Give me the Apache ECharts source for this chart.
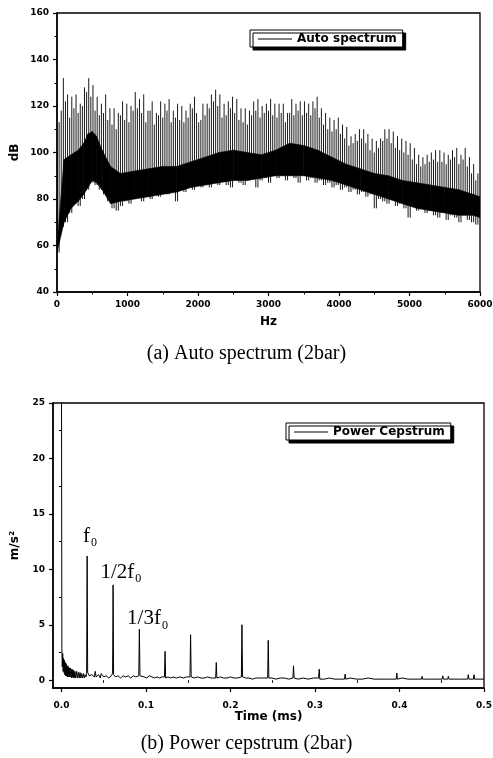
<!DOCTYPE html>
<html>
<head>
<meta charset="utf-8">
<script src="https://cdn.jsdelivr.net/npm/echarts@6/dist/echarts.min.js"></script>
<style>
html, body { margin: 0; padding: 0; background: #fff; }
#chart { width: 493px; height: 758px; }
</style>
</head>
<body>
<div id="chart"></div>
<script>
'use strict';

const SANS = 'DejaVu Sans';
const SERIF = 'Liberation Serif';

// (a) auto spectrum: tall teeth at odd half-steps, shorter teeth in between
const harmonicStep = 60;
const specPeaks = [
  113, 132, 125, 124, 125, 121, 128, 132, 129, 124,
  121, 125, 119, 119, 117, 122, 121, 120, 126, 123,
  125, 118, 122, 117, 122, 121, 123, 118, 121, 120,
  118, 121, 124, 113, 121, 121, 125, 127, 125, 121,
  122, 124, 123, 119, 119, 118, 122, 123, 120, 121,
  123, 121, 121, 121, 117, 123, 121, 122, 122, 121,
  122, 124, 119, 117, 115, 114, 115, 112, 111, 107,
  108, 110, 110, 108, 106, 105, 106, 110, 110, 109,
  107, 106, 105, 104, 102, 99, 98, 99, 100, 101,
  101, 100, 99, 101, 102, 99, 102, 98, 95, 91,
];
const specMids = [
  100, 118, 122, 115, 119, 117, 120, 126, 124, 118,
  116, 117, 114, 112, 110, 116, 114, 113, 118, 119,
  117, 113, 118, 112, 116, 115, 118, 113, 115, 114,
  113, 115, 119, 117, 114, 116, 119, 122, 120, 115,
  116, 119, 117, 114, 113, 112, 116, 118, 115, 117,
  118, 116, 115, 117, 113, 117, 116, 118, 116, 117,
  116, 119, 115, 112, 110, 109, 110, 108, 106, 103,
  104, 105, 106, 104, 101, 100, 102, 105, 106, 104,
  102, 101, 100, 99, 97, 95, 94, 95, 96, 97,
  96, 96, 95, 97, 98, 95, 97, 94, 91, 88,
];
const specDips = [
  57, 68, 70, 74, 78, 77, 80, 84, 87, 86,
  84, 82, 79, 76, 75, 77, 79, 78, 80, 81,
  79, 81, 80, 82, 81, 83, 82, 83, 79, 84,
  83, 85, 84, 86, 85, 86, 85, 87, 86, 88,
  86, 85, 88, 87, 86, 88, 89, 85, 88, 89,
  87, 90, 89, 90, 88, 90, 89, 87, 90, 88,
  89, 87, 88, 86, 87, 85, 86, 84, 85, 83,
  84, 82, 83, 81, 82, 76, 80, 79, 78, 80,
  77, 78, 76, 72, 77, 75, 76, 74, 75, 73,
  72, 74, 71, 73, 72, 70, 73, 71, 70, 69,
];
// dense dark band under the comb
const bandFreq = [
  0, 100, 200, 300, 380, 440, 500, 560, 640, 760,
  900, 1100, 1300, 1500, 1700, 1900, 2100, 2300, 2500, 2700,
  2900, 3100, 3300, 3500, 3700, 3900, 4100, 4300, 4500, 4700,
  4900, 5100, 5300, 5500, 5700, 5900, 6000,
];
const bandLow = [
  57, 70, 76, 79, 82, 85, 88, 87, 84, 78,
  79, 80, 81, 82, 83, 85, 86, 87, 88, 88,
  89, 90, 90, 90, 89, 88, 86, 84, 82, 80,
  78, 76, 75, 74, 73, 73, 72,
];
const bandHigh = [
  60, 97, 99, 101, 104, 108, 109, 107, 101, 94,
  91, 92, 93, 94, 94, 96, 98, 100, 101, 100,
  99, 101, 104, 103, 101, 98, 95, 93, 91, 90,
  88, 87, 86, 85, 84, 82, 81,
];

// (b) power cepstrum: baseline + rahmonic peaks
const cepTime = [
  0, 0.0005, 0.001, 0.0015, 0.002, 0.0025, 0.003, 0.0035, 0.004, 0.0045,
  0.005, 0.0055, 0.006, 0.0065, 0.007, 0.0075, 0.008, 0.0085, 0.009, 0.0095,
  0.010, 0.0105, 0.011, 0.0115, 0.012, 0.0125, 0.013, 0.0135, 0.014, 0.0145,
  0.015, 0.016, 0.017, 0.018, 0.019, 0.020, 0.021, 0.022, 0.023, 0.024,
  0.025, 0.026, 0.027, 0.028, 0.029, 0.0298,
  0.0310, 0.033, 0.036, 0.039, 0.040, 0.041, 0.044, 0.046, 0.047, 0.050,
  0.053, 0.056, 0.059, 0.0605, 0.0617, 0.064, 0.067, 0.070, 0.073, 0.076,
  0.079, 0.082, 0.085, 0.088, 0.0915, 0.0929, 0.095, 0.098,
  0.101, 0.104, 0.107, 0.110, 0.113, 0.116, 0.119, 0.1219, 0.1233, 0.126,
  0.129, 0.132, 0.136, 0.140, 0.144, 0.148, 0.1521, 0.1535, 0.157, 0.161,
  0.165, 0.169, 0.173, 0.177, 0.1825, 0.1839, 0.188, 0.192, 0.196, 0.200,
  0.204, 0.208, 0.2129, 0.2143, 0.218, 0.222, 0.226, 0.230, 0.234, 0.238,
  0.2440, 0.2454, 0.249, 0.254, 0.259, 0.264, 0.269, 0.2739, 0.2753, 0.280,
  0.286, 0.292, 0.298, 0.3043, 0.3057, 0.311, 0.317, 0.323, 0.329, 0.3350,
  0.3364, 0.342, 0.349, 0.356, 0.363, 0.370, 0.377, 0.384, 0.391, 0.3961,
  0.3975, 0.403, 0.410, 0.417, 0.4260, 0.4274, 0.434, 0.441, 0.4505, 0.4519,
  0.4571, 0.4585, 0.465, 0.472, 0.4807, 0.4821, 0.4875, 0.4889, 0.494, 0.500,
];
const cepValue = [
  30, 2.9, 1.2, 2.4, 0.8, 2.0, 0.7, 1.8, 0.5, 1.6,
  0.4, 1.5, 0.4, 1.3, 0.3, 1.3, 0.3, 1.2, 0.3, 1.1,
  0.3, 1.1, 0.3, 1.0, 0.2, 1.0, 0.3, 0.9, 0.2, 0.9,
  0.2, 0.8, 0.2, 0.8, 0.2, 0.7, 0.2, 0.7, 0.2, 0.6,
  0.2, 0.6, 0.2, 0.5, 0.3, 0.6,
  0.7, 0.4, 0.5, 0.3, 0.8, 0.3, 0.5, 0.2, 0.6, 0.3,
  0.4, 0.2, 0.4, 0.6, 0.5, 0.3, 0.4, 0.2, 0.4, 0.3,
  0.4, 0.2, 0.4, 0.3, 0.4, 0.4, 0.3, 0.3,
  0.2, 0.4, 0.3, 0.2, 0.3, 0.2, 0.3, 0.3, 0.2, 0.3,
  0.2, 0.3, 0.2, 0.3, 0.2, 0.3, 0.3, 0.3, 0.2, 0.3,
  0.2, 0.2, 0.3, 0.2, 0.2, 0.2, 0.3, 0.2, 0.2, 0.3,
  0.2, 0.2, 0.3, 0.3, 0.2, 0.2, 0.1, 0.2, 0.2, 0.2,
  0.2, 0.2, 0.2, 0.1, 0.2, 0.2, 0.1, 0.2, 0.2, 0.1,
  0.2, 0.1, 0.2, 0.2, 0.1, 0.1, 0.2, 0.1, 0.1, 0.1,
  0.1, 0.2, 0.1, 0.1, 0.2, 0.1, 0.1, 0.1, 0.1, 0.1,
  0.1, 0.2, 0.1, 0.1, 0.1, 0.1, 0.1, 0.1, 0.1, 0.1,
  0.1, 0.1, 0.1, 0.1, 0.1, 0.1, 0.1, 0.1, 0.1, 0.1,
];
const rahmonicTime = [0.0304, 0.0611, 0.0922, 0.1226, 0.1528, 0.1832, 0.2136, 0.2447, 0.2746,
  0.3050, 0.3357, 0.3968, 0.4267, 0.4512, 0.4578, 0.4814, 0.4882];
const rahmonicValue = [11.2, 8.6, 4.6, 2.6, 4.1, 1.6, 5.0, 3.6, 1.3,
  1.0, 0.55, 0.65, 0.35, 0.4, 0.35, 0.5, 0.5];

const timeTicks = [0, 0.1, 0.2, 0.3, 0.4, 0.5];
const timeMinorTicks = [0.05, 0.15, 0.25, 0.35, 0.45];
const cepTicks = [0, 5, 10, 15, 20, 25];
const cepMinorTicks = [2.5, 7.5, 12.5, 17.5, 22.5];

const annoMain = ['f', '1/2f', '1/3f'];
const annoSub = '0';
const annoTime = [0.0337, 0.0704, 0.1018];
const annoValue = [12.8, 9.6, 5.4];

// build the series tables
const toothData = [];
specPeaks.forEach((p, k) => {
  toothData.push([k * harmonicStep, specDips[k], specMids[k]]);
  toothData.push([k * harmonicStep + harmonicStep / 2, specDips[k], p]);
});
const bandData = bandFreq.map((f, i) => [f, bandLow[i], bandHigh[i]]);
const cepLine = cepTime.map((t, i) => [t, cepValue[i]])
  .concat(rahmonicTime.map((t, i) => [t, rahmonicValue[i]]))
  .sort((a, b) => a[0] - b[0]);

function axisBase(extra) {
  return Object.assign({
    type: 'value',
    axisLine: { show: true, onZero: false, lineStyle: { color: '#000', width: 1.5 } },
    axisTick: { show: true, length: 4, lineStyle: { color: '#000', width: 1.2 } },
    splitLine: { show: false },
    axisLabel: { color: '#000', fontFamily: SANS, fontWeight: 'bold', fontSize: 9, formatter: (v) => String(v) },
    nameTextStyle: { color: '#000', fontFamily: SANS, fontWeight: 'bold', fontSize: 12 },
    nameLocation: 'middle',
  }, extra);
}

function legendBox(name, left, top) {
  return {
    data: [name], left, top, orient: 'horizontal',
    icon: 'rect', itemWidth: 34, itemHeight: 1, itemGap: 0,
    itemStyle: { color: '#000', borderWidth: 0 },
    padding: [3, 6, 2, 8],
    backgroundColor: '#fff', borderColor: '#000', borderWidth: 1,
    shadowColor: '#000', shadowOffsetX: 3, shadowOffsetY: 3, shadowBlur: 0,
    textStyle: { color: '#000', fontFamily: SANS, fontWeight: 'bold', fontSize: 12 },
    selectedMode: false,
  };
}

function bandItem(params, api) {
  const i = params.dataIndexInside;
  if (i >= params.dataInsideLength - 1) return null;
  const pts = [
    api.coord([api.value(0, i), api.value(1, i)]),
    api.coord([api.value(0, i + 1), api.value(1, i + 1)]),
    api.coord([api.value(0, i + 1), api.value(2, i + 1)]),
    api.coord([api.value(0, i), api.value(2, i)]),
  ];
  return { type: 'polygon', shape: { points: pts }, style: { fill: '#000', stroke: '#000', lineWidth: 0.6 } };
}

function toothItem(params, api) {
  const lo = api.coord([api.value(0), api.value(1)]);
  const hi = api.coord([api.value(0), api.value(2)]);
  return { type: 'line', shape: { x1: lo[0], y1: lo[1], x2: hi[0], y2: hi[1] },
    style: { stroke: '#000', lineWidth: 0.9 } };
}

const chart = echarts.init(document.getElementById('chart'), null, { renderer: 'canvas' });
chart.setOption({
  animation: false,
  backgroundColor: '#fff',
  title: [
    { text: '(a) Auto spectrum (2bar)', left: 'center', top: 339,
      textStyle: { fontFamily: SERIF, fontWeight: 'normal', fontSize: 20, color: '#000' } },
    { text: '(b) Power cepstrum (2bar)', left: 'center', top: 729,
      textStyle: { fontFamily: SERIF, fontWeight: 'normal', fontSize: 20, color: '#000' } },
  ],
  legend: [legendBox('Auto spectrum', 250, 30), legendBox('Power Cepstrum', 286, 423)],
  grid: [
    { left: 57, right: 13, top: 13, bottom: 466, show: true, borderColor: '#000', borderWidth: 1.3,
      backgroundColor: 'transparent', containLabel: false, outerBoundsMode: 'none' },
    { left: 53, right: 9, top: 403, bottom: 70, show: true, borderColor: '#000', borderWidth: 1.3,
      backgroundColor: 'transparent', containLabel: false, outerBoundsMode: 'none' },
  ],
  xAxis: [
    axisBase({ gridIndex: 0, position: 'bottom', min: 0, max: 6000, interval: 1000,
      minorTick: { show: true, splitNumber: 2, length: 2.5, lineStyle: { color: '#000' } },
      name: 'Hz', nameGap: 24, nameMoveOverlap: false }),
    axisBase({ gridIndex: 1, position: 'bottom', min: -0.01, max: 0.5,
      axisTick: { show: true, length: 4, customValues: timeTicks, lineStyle: { color: '#000', width: 1.2 } },
      axisLabel: { color: '#000', fontFamily: SANS, fontWeight: 'bold', fontSize: 9, margin: 13,
        customValues: timeTicks, formatter: (v) => v.toFixed(1) },
      name: 'Time (ms)', nameGap: 23, nameMoveOverlap: false }),
    axisBase({ gridIndex: 1, position: 'bottom', min: -0.01, max: 0.5,
      axisLine: { show: false },
      axisTick: { show: true, length: 2.5, customValues: timeMinorTicks, lineStyle: { color: '#000' } },
      axisLabel: { show: false } }),
  ],
  yAxis: [
    axisBase({ gridIndex: 0, position: 'left', min: 40, max: 160, interval: 20,
      minorTick: { show: true, splitNumber: 2, length: 2.5, lineStyle: { color: '#000' } },
      name: 'dB', nameGap: 36, nameRotate: 90, nameMoveOverlap: false }),
    axisBase({ gridIndex: 1, position: 'left', min: -0.7, max: 25,
      axisTick: { show: true, length: 4, customValues: cepTicks, lineStyle: { color: '#000', width: 1.2 } },
      axisLabel: { color: '#000', fontFamily: SANS, fontWeight: 'bold', fontSize: 9, customValues: cepTicks },
      name: 'm/s²', nameGap: 32, nameRotate: 90, nameMoveOverlap: false }),
    axisBase({ gridIndex: 1, position: 'left', min: -0.7, max: 25,
      axisLine: { show: false },
      axisTick: { show: true, length: 2.5, customValues: cepMinorTicks, lineStyle: { color: '#000' } },
      axisLabel: { show: false } }),
  ],
  series: [
    { type: 'custom', name: 'band', xAxisIndex: 0, yAxisIndex: 0, silent: true, clip: true,
      data: bandData, encode: { x: 0, y: [1, 2] }, renderItem: bandItem },
    { type: 'custom', name: 'Auto spectrum', xAxisIndex: 0, yAxisIndex: 0, silent: true, clip: true,
      color: '#000', data: toothData, encode: { x: 0, y: [1, 2] }, renderItem: toothItem },
    { type: 'line', name: 'Power Cepstrum', xAxisIndex: 1, yAxisIndex: 1,
      data: cepLine, symbol: 'none', silent: true, color: '#000',
      lineStyle: { width: 1, color: '#000' },
      markPoint: {
        symbol: 'circle', symbolSize: 0, silent: true,
        label: {
          show: true, position: 'inside', color: '#000',
          formatter: (p) => p.name,
          rich: {
            n: { fontFamily: SERIF, fontSize: 21, lineHeight: 24, color: '#000', verticalAlign: 'top' },
            s: { fontFamily: SERIF, fontSize: 12, lineHeight: 12, color: '#000', verticalAlign: 'top',
              padding: [11, 0, 0, 1] },
          },
        },
        data: annoMain.map((txt, i) => ({
          name: '{n|' + txt + '}{s|' + annoSub + '}',
          coord: [annoTime[i], annoValue[i]],
        })),
      } },
  ],
});
window.addEventListener('resize', () => chart.resize());
</script>
</body>
</html>
